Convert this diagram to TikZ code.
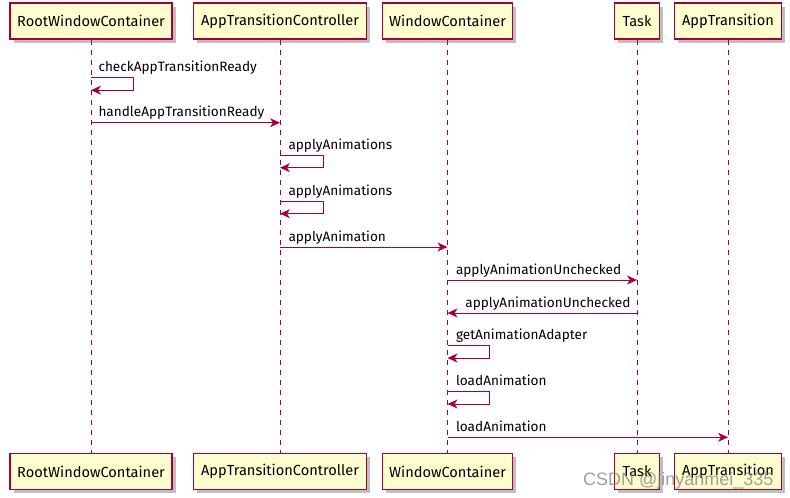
\documentclass[tikz,border=0pt]{standalone}
\usepackage{fontspec}
\setmainfont{Fira Sans}
\newfontfamily\wmfont{Liberation Sans}
\usetikzlibrary{arrows.meta,shadows}
\definecolor{pumlred}{HTML}{A80036}
\definecolor{pumlfill}{HTML}{FEFECE}
\begin{document}
\begin{tikzpicture}[x=1pt,y=-1pt,
  part/.style={draw=pumlred, line width=1.3pt, fill=pumlfill, minimum height=36pt,
    inner sep=0pt, font=\fontsize{14.6}{16}\selectfont, text=black,
    drop shadow={shadow xshift=3.5pt, shadow yshift=-3.5pt, fill=black, opacity=0.25}},
  life/.style={draw=pumlred, line width=0.9pt, dash pattern=on 5pt off 5pt},
  msg/.style={draw=pumlred, line width=1pt, -{Stealth[length=10pt,width=9pt,inset=3pt]}},
  lbl/.style={font=\fontsize{13.6}{15}\selectfont, text=black, inner sep=0pt},
  wm/.style={font=\wmfont\fontsize{18}{20}\selectfont, text=gray, opacity=0.75, inner sep=0pt}
]
\useasboundingbox (0,0) rectangle (790,498);
\fill[white] (0,0) rectangle (790,498);

% participants (top)
\node[part, minimum width=162pt] (rootT) at (91,21) {RootWindowContainer};
\node[part, minimum width=173pt] (atcT) at (280,21) {AppTransitionController};
\node[part, minimum width=130pt] (wcT) at (447.5,21) {WindowContainer};
\node[part, minimum width=45pt] (taskT) at (637,21) {Task};
\node[part, minimum width=107pt] (atT) at (728,21) {AppTransition};

% participants (bottom)
\node[part, minimum width=162pt] (rootB) at (91,471.5) {RootWindowContainer};
\node[part, minimum width=173pt] (atcB) at (280,471.5) {AppTransitionController};
\node[part, minimum width=130pt] (wcB) at (447.5,471.5) {WindowContainer};
\node[part, minimum width=45pt] (taskB) at (637,471.5) {Task};
\node[part, minimum width=107pt] (atB) at (728,471.5) {AppTransition};

% lifelines
\draw[life] (rootT) -- (rootB);
\draw[life] (atcT) -- (atcB);
\draw[life] (wcT) -- (wcB);
\draw[life] (taskT) -- (taskB);
\draw[life] (atT) -- (atB);

% messages
\draw[msg] (rootT |- 0,77.7)
  node[lbl, anchor=base west, xshift=7pt, yshift=6pt] {checkAppTransitionReady}
  -- ++(42,0) -- ++(0,12.5) -- (rootT |- 0,90.2);

\draw[msg] (rootT |- 0,122.7)
  node[lbl, anchor=base west, xshift=7pt, yshift=6pt] {handleAppTransitionReady}
  -- (atcT |- 0,122.7);

\draw[msg] (atcT |- 0,155)
  node[lbl, anchor=base west, xshift=8pt, yshift=6pt] {applyAnimations}
  -- ++(43,0) -- ++(0,12.7) -- (atcT |- 0,167.7);

\draw[msg] (atcT |- 0,201)
  node[lbl, anchor=base west, xshift=8pt, yshift=6pt] {applyAnimations}
  -- ++(43,0) -- ++(0,12.7) -- (atcT |- 0,213.7);

\draw[msg] (atcT |- 0,247)
  node[lbl, anchor=base west, xshift=8pt, yshift=6pt] {applyAnimation}
  -- (wcT |- 0,247);

\draw[msg] (wcT |- 0,280)
  node[lbl, anchor=base west, xshift=8pt, yshift=6pt] {applyAnimationUnchecked}
  -- (taskT |- 0,280);

\draw[msg] (taskT |- 0,313)
  node[lbl, anchor=base east, xshift=-6pt, yshift=6pt] {applyAnimationUnchecked}
  -- (wcT |- 0,313);

\draw[msg] (wcT |- 0,345.3)
  node[lbl, anchor=base west, xshift=8pt, yshift=6pt] {getAnimationAdapter}
  -- ++(42,0) -- ++(0,12.7) -- (wcT |- 0,358);

\draw[msg] (wcT |- 0,391.3)
  node[lbl, anchor=base west, xshift=8pt, yshift=6pt] {loadAnimation}
  -- ++(42,0) -- ++(0,12.7) -- (wcT |- 0,404);

\draw[msg] (wcT |- 0,437.3)
  node[lbl, anchor=base west, xshift=8pt, yshift=6pt] {loadAnimation}
  -- (atT |- 0,437.3);

% watermark
\node[wm, anchor=base west] (wmark) at (583,485) {CSDN @jinyanmei\_335};
\end{tikzpicture}
\end{document}
